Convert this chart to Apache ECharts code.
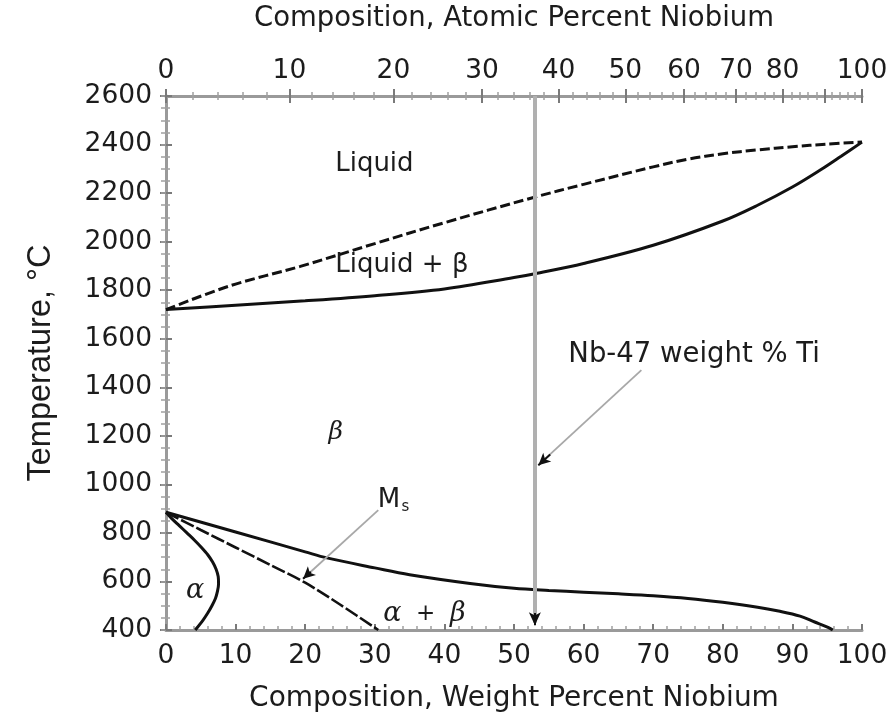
<!DOCTYPE html>
<html>
<head>
<meta charset="utf-8">
<script src="https://cdn.jsdelivr.net/npm/echarts@6/dist/echarts.min.js"></script>
<style>
  html, body { margin: 0; padding: 0; background: #ffffff; }
  #chart { width: 892px; height: 718px; }
</style>
</head>
<body>
<div id="chart"></div>
<script>
// Ti–Nb binary phase diagram: temperature (°C) against weight percent niobium

// Phase boundaries, [wt% Nb, °C]
const liquidus = [[0, 1720], [9.2, 1818], [19.3, 1898], [30, 1992], [40, 2078], [52.8, 2182], [60, 2236], [70, 2308], [75, 2340], [80, 2362], [85, 2378], [90, 2391], [95, 2402], [100, 2410]];
const solidus = [[0, 1720], [10, 1738], [20, 1756], [30, 1777], [40, 1805], [50, 1852], [53, 1868], [60, 1910], [70, 1985], [80, 2085], [85, 2150], [90, 2225], [94, 2295], [97, 2352], [100, 2410]];
const betaTransus = [[0, 885], [10, 804], [20, 722], [23.1, 697], [30, 656], [35, 628], [43.7, 592], [50, 572], [55, 563], [60, 556], [65, 549], [70, 541], [75, 530], [80, 514], [85, 494], [88, 478], [91.1, 457], [93.2, 433], [95.2, 410], [95.8, 400]];
const alphaBoundary = [[0, 885], [0.8, 860], [1.9, 830], [3.0, 800], [4.1, 770], [5.1, 740], [6.0, 710], [6.7, 680], [7.2, 650], [7.5, 620], [7.55, 590], [7.4, 560], [7.1, 530], [6.6, 500], [6.0, 470], [5.3, 440], [4.2, 400]];
const msLine = [[0, 885], [5, 812], [10, 740], [15, 668], [20, 595], [25, 505], [30.5, 400]];

// Alloy of interest: Nb-47 wt% Ti = 53 wt% Nb
const alloyComposition = 53;

// Axis ticks
const weightTicks = [0, 10, 20, 30, 40, 50, 60, 70, 80, 90, 100];
const atomicMajorTicks = [0, 10, 20, 30, 40, 50, 60, 70, 80, 90, 100];
const atomicLabels = [0, 10, 20, 30, 40, 50, 60, 70, 80, 100];
const atomicMinorTicks = [2, 4, 6, 8, 12, 14, 16, 18, 22, 24, 26, 28, 32, 34, 36, 38, 42, 44, 46, 48, 52, 54, 56, 58, 62, 64, 66, 68, 72, 74, 76, 78, 82, 84, 86, 88, 92, 94, 96, 98];

// Region labels and annotations
const regionLabels = ['Liquid', 'Liquid + β', 'β', 'α', 'α + β', 'M', 's', 'Nb-47 weight % Ti'];

// Atomic masses used to place the atomic-percent scale on the weight-percent axis
const M_TI = 47.867, M_NB = 92.906;
function atToWt(a) { const nb = a * M_NB, ti = (100 - a) * M_TI; return 100 * nb / (nb + ti); }
function wtToAt(w) { const nb = w / M_NB, ti = (100 - w) / M_TI; return 100 * nb / (nb + ti); }

const SANS = 'DejaVu Sans';
const SERIF = 'DejaVu Serif';
const TEXT = '#1c1c1c';
const AXIS_GRAY = '#9a9a9a';
const TICK_MAJOR = { color: '#7a7a7a', width: 2 };
const TICK_MINOR = { color: '#a0a0a0', width: 1.5 };
const TICK_FONT = 26.5;

const xBase = { type: 'value', min: 0, max: 100, splitLine: { show: false } };
const yBase = { type: 'value', min: 400, max: 2600, splitLine: { show: false } };

function tickOnlyX(values, inside, length, style) {
  return Object.assign({}, xBase, {
    position: 'top',
    axisLine: { show: false },
    axisLabel: { show: false },
    axisTick: { show: true, inside: inside, length: length, customValues: values, lineStyle: style }
  });
}

const labelPlacement = [
  { text: regionLabels[0], at: [24.3, 2320], pos: 'right', style: { fontFamily: SANS, fontSize: 26 } },
  { text: regionLabels[1], at: [24.3, 1903], pos: 'right', style: { fontFamily: SANS, fontSize: 26 } },
  { text: regionLabels[2], at: [24.4, 1215], pos: 'inside', style: { fontFamily: SERIF, fontStyle: 'italic', fontSize: 25 } },
  { text: regionLabels[3], at: [4.2, 562], pos: 'inside', style: { fontFamily: SERIF, fontStyle: 'italic', fontSize: 27 } },
  { text: '{g|α}{p|  +  }{g|β}', at: [31.2, 467], pos: 'right', style: {
      rich: { g: { fontFamily: SERIF, fontStyle: 'italic', fontSize: 27, color: TEXT }, p: { fontFamily: SANS, fontSize: 23, color: TEXT } } } },
  { text: regionLabels[5], at: [30.4, 935], pos: 'right', style: { fontFamily: SANS, fontSize: 26 } },
  { text: regionLabels[6], at: [34.4, 905], pos: 'inside', style: { fontFamily: SANS, fontSize: 15 } },
  { text: regionLabels[7], at: [57.8, 1535], pos: 'right', style: { fontFamily: SANS, fontSize: 27.5 } }
];

function arrow(from, to, headFrom) {
  return [
    [{ coord: from, symbol: 'none', lineStyle: { color: '#a8a8a8', width: 1.8, type: 'solid' } }, { coord: to, symbol: 'none' }],
    [{ coord: headFrom, symbol: 'none', lineStyle: { color: '#111', width: 2, type: 'solid' } }, { coord: to, symbol: 'arrow', symbolSize: [9, 12] }]
  ];
}

const chart = echarts.init(document.getElementById('chart'), null, { renderer: 'canvas' });

const option = {
  animation: false,
  backgroundColor: '#ffffff',
  grid: { left: 166, right: 30, top: 84, bottom: 78, containLabel: false },
  xAxis: [
    Object.assign({}, xBase, {
      position: 'bottom',
      interval: 10,
      name: 'Composition, Weight Percent Niobium',
      nameLocation: 'middle',
      nameGap: 55,
      nameTextStyle: { fontFamily: SANS, fontSize: 28, color: TEXT },
      axisLine: { show: true, lineStyle: { color: AXIS_GRAY, width: 3 } },
      axisTick: { show: true, inside: true, length: 6, customValues: weightTicks, lineStyle: TICK_MAJOR },
      minorTick: { show: true, splitNumber: 5, length: 4, lineStyle: TICK_MINOR },
      axisLabel: { fontFamily: SANS, fontSize: TICK_FONT, color: TEXT, margin: 13, customValues: weightTicks }
    }),
    Object.assign({}, xBase, {
      position: 'top',
      name: 'Composition, Atomic Percent Niobium',
      nameLocation: 'middle',
      nameGap: 63,
      nameTextStyle: { fontFamily: SANS, fontSize: 27.5, color: TEXT },
      axisLine: { show: true, lineStyle: { color: AXIS_GRAY, width: 3 } },
      axisTick: { show: true, inside: false, length: 7, customValues: atomicMajorTicks.map(atToWt), lineStyle: TICK_MAJOR },
      axisLabel: {
        fontFamily: SANS, fontSize: TICK_FONT, color: TEXT, margin: 11,
        customValues: atomicLabels.map(atToWt),
        formatter: function (v) { return String(Math.round(wtToAt(v))); }
      }
    }),
    tickOnlyX(atomicMajorTicks.map(atToWt), true, 7, TICK_MAJOR),
    tickOnlyX(atomicMinorTicks.map(atToWt), false, 4, TICK_MINOR),
    tickOnlyX(atomicMinorTicks.map(atToWt), true, 4, TICK_MINOR)
  ],
  yAxis: [
    Object.assign({}, yBase, {
      position: 'left',
      interval: 200,
      name: 'Temperature, °C',
      nameLocation: 'middle',
      nameGap: 108,
      nameRotate: 90,
      nameTextStyle: { fontFamily: 'Liberation Sans', fontSize: 32.5, color: TEXT },
      axisLine: { show: true, lineStyle: { color: AXIS_GRAY, width: 3 } },
      axisTick: { show: true, inside: false, length: 6, lineStyle: TICK_MAJOR },
      axisLabel: { fontFamily: SANS, fontSize: TICK_FONT, color: TEXT, margin: 14, formatter: function (v) { return String(v); } }
    }),
    Object.assign({}, yBase, {
      position: 'left',
      interval: 200,
      axisLine: { show: false },
      axisLabel: { show: false },
      axisTick: { show: true, inside: true, length: 6, lineStyle: TICK_MAJOR },
      minorTick: { show: true, splitNumber: 4, length: 4, lineStyle: TICK_MINOR }
    }),
    Object.assign({}, yBase, {
      position: 'right',
      interval: 50,
      axisLine: { show: true, lineStyle: { color: AXIS_GRAY, width: 3 } },
      axisLabel: { show: false },
      axisTick: { show: true, inside: true, length: 5, lineStyle: TICK_MINOR }
    })
  ],
  series: [
    {
      name: 'Liquidus', type: 'line', data: liquidus, smooth: 0.35, symbol: 'none', z: 4,
      lineStyle: { color: '#111', width: 3, type: [10, 4] }
    },
    {
      name: 'Solidus', type: 'line', data: solidus, smooth: 0.35, symbol: 'none', z: 4,
      lineStyle: { color: '#111', width: 3 }
    },
    {
      name: 'Beta transus', type: 'line', data: betaTransus, smooth: 0.35, symbol: 'none', z: 4,
      lineStyle: { color: '#111', width: 3 }
    },
    {
      name: 'Alpha boundary', type: 'line', data: alphaBoundary, smooth: 0.3, symbol: 'none', z: 4,
      lineStyle: { color: '#111', width: 3 }
    },
    {
      name: 'Ms', type: 'line', data: msLine, smooth: 0.3, symbol: 'none', z: 4,
      lineStyle: { color: '#111', width: 2.6, type: [14, 3] }
    },
    {
      name: 'Labels', type: 'scatter', symbol: 'circle', symbolSize: 0.1, z: 6,
      itemStyle: { color: 'rgba(0,0,0,0)' },
      data: labelPlacement.map(function (l) {
        return {
          value: l.at,
          label: Object.assign({ show: true, position: l.pos, distance: 0, color: TEXT, opacity: 1, formatter: l.text }, l.style)
        };
      }),
      markLine: {
        silent: true,
        animation: false,
        label: { show: false },
        symbol: ['none', 'none'],
        data: [
          [{ coord: [alloyComposition, 2600], symbol: 'none', lineStyle: { color: '#b0b0b0', width: 4, type: 'solid' } }, { coord: [alloyComposition, 430], symbol: 'none' }],
          [{ coord: [alloyComposition, 470], symbol: 'none', lineStyle: { color: '#111', width: 2, type: 'solid' } }, { coord: [alloyComposition, 420], symbol: 'arrow', symbolSize: [9, 13] }]
        ]
          .concat(arrow([68.3, 1471], [53.5, 1079], [55.2, 1123]))
          .concat(arrow([30.5, 894], [19.7, 611], [20.8, 640]))
      }
    }
  ]
};

chart.setOption(option);
</script>
</body>
</html>
